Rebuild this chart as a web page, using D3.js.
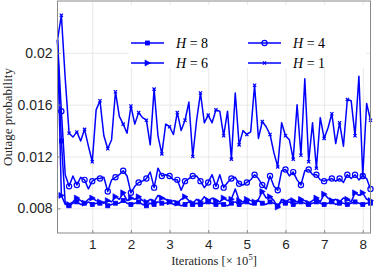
<!DOCTYPE html>
<html><head><meta charset="utf-8">
<script src="https://cdn.jsdelivr.net/npm/d3@7"></script>
<style>body{margin:0;background:#fff}svg{display:block}</style>
</head><body><svg id="c" width="374" height="268"></svg>
<script>
const iterations = [0.1,0.2,0.3,0.4,0.5,0.6,0.7,0.8,0.9,1.0,1.1,1.2,1.3,1.4,1.5,1.6,1.7,1.8,1.9,2.0,
2.1,2.2,2.3,2.4,2.5,2.6,2.7,2.8,2.9,3.0,3.1,3.2,3.3,3.4,3.5,3.6,3.7,3.8,3.9,4.0,
4.1,4.2,4.3,4.4,4.5,4.6,4.7,4.8,4.9,5.0,5.1,5.2,5.3,5.4,5.5,5.6,5.7,5.8,5.9,6.0,
6.1,6.2,6.3,6.4,6.5,6.6,6.7,6.8,6.9,7.0,7.1,7.2,7.3,7.4,7.5,7.6,7.7,7.8,7.9,8.0,8.1,8.2];

const h8 = [0.0210,0.0132,0.0084,0.0082,0.0084,0.0085,0.0083,0.0084,0.0085,0.0083,
0.0084,0.0084,0.0085,0.0082,0.0083,0.0084,0.0084,0.0086,0.0084,0.0083,
0.0084,0.0085,0.0083,0.0082,0.0084,0.0083,0.0085,0.0084,0.0084,0.0085,
0.0083,0.0084,0.0082,0.0083,0.0085,0.0083,0.0084,0.0083,0.0084,0.0085,
0.0084,0.0083,0.0084,0.0083,0.0082,0.0084,0.0085,0.0083,0.0084,0.0085,
0.0083,0.0084,0.0086,0.0084,0.0083,0.0085,0.0084,0.0082,0.0085,0.0084,
0.0085,0.0083,0.0084,0.0085,0.0084,0.0083,0.0084,0.0085,0.0084,0.0083,
0.0084,0.0085,0.0083,0.0084,0.0084,0.0083,0.0084,0.0085,0.0084,0.0083,0.0084,0.0084];

const h6 = [0.0210,0.0090,0.0083,0.0083,0.0085,0.0088,0.0086,0.0084,0.0087,0.0088,
0.0086,0.0085,0.0084,0.0086,0.0085,0.0089,0.0087,0.0092,0.0086,0.0088,
0.0087,0.0089,0.0086,0.0085,0.0087,0.0085,0.0090,0.0088,0.0087,0.0085,
0.0086,0.0084,0.0087,0.0089,0.0086,0.0084,0.0087,0.0085,0.0089,0.0086,
0.0088,0.0086,0.0085,0.0088,0.0086,0.0087,0.0095,0.0086,0.0085,0.0087,
0.0086,0.0085,0.0087,0.0093,0.0088,0.0089,0.0086,0.0081,0.0087,0.0085,
0.0087,0.0086,0.0085,0.0087,0.0086,0.0084,0.0086,0.0088,0.0085,0.0091,
0.0088,0.0086,0.0087,0.0085,0.0088,0.0087,0.0085,0.0092,0.0090,0.0092,0.0087,0.0086];

const h4 = [0.0210,0.0155,0.0106,0.0097,0.0105,0.0098,0.0104,0.0102,0.0095,0.0101,
0.0103,0.0103,0.0104,0.0093,0.0102,0.0104,0.0106,0.0109,0.0105,0.0092,
0.0097,0.0100,0.0101,0.0103,0.0108,0.0096,0.0111,0.0105,0.0106,0.0105,
0.0102,0.0102,0.0094,0.0101,0.0103,0.0105,0.0105,0.0101,0.0096,0.0100,
0.0106,0.0097,0.0106,0.0096,0.0100,0.0103,0.0104,0.0099,0.0098,0.0100,
0.0102,0.0106,0.0103,0.0098,0.0095,0.0105,0.0097,0.0094,0.0109,0.0110,
0.0105,0.0108,0.0102,0.0098,0.0109,0.0110,0.0106,0.0106,0.0102,0.0101,
0.0102,0.0103,0.0101,0.0103,0.0100,0.0106,0.0103,0.0106,0.0102,0.0105,0.0103,0.0095];

const h1 = [0.0210,0.0229,0.0180,0.0138,0.0135,0.0139,0.0132,0.0141,0.0128,0.0116,
0.0156,0.0163,0.0136,0.0126,0.0133,0.0170,0.0151,0.0145,0.0138,0.0159,
0.0145,0.0154,0.0150,0.0148,0.0129,0.0172,0.0136,0.0122,0.0145,0.0143,
0.0137,0.0154,0.0140,0.0148,0.0162,0.0120,0.0148,0.0169,0.0146,0.0152,
0.0146,0.0156,0.0155,0.0136,0.0155,0.0118,0.0169,0.0129,0.0140,0.0137,
0.0139,0.0175,0.0134,0.0147,0.0143,0.0137,0.0123,0.0112,0.0146,0.0136,
0.0133,0.0118,0.0160,0.0121,0.0180,0.0116,0.0146,0.0111,0.0150,0.0134,
0.0142,0.0153,0.0130,0.0146,0.0128,0.0164,0.0163,0.0136,0.0182,0.0105,0.0161,0.0148];

const xTicks = [1,2,3,4,5,6,7,8];
const yTicks = [0.008,0.012,0.016,0.02];
const yTickLabels = ["0.008","0.012","0.016","0.02"];
const seriesNames = ["8","6","4","1"];
const seriesMarkers = ["square","triangle","circle","cross"];

const svg = d3.select("#c");
const L = 57.5, R = 370.5, T = 1, B = 233;
const x = d3.scaleLinear().domain([0.1, 8.2]).range([L, R]);
const y = d3.scaleLinear().domain([0.0061, 0.024]).range([B, T]);
const blue = "#0000ff";

// grid
const gx = svg.append("g").attr("transform", `translate(0,${B})`)
  .call(d3.axisBottom(x).tickValues(xTicks).tickSize(-(B - T)).tickFormat(""));
gx.select(".domain").remove();
gx.selectAll("line").attr("stroke", "#e3e3e3").attr("stroke-width", 0.8);
const gy = svg.append("g").attr("transform", `translate(${L},0)`)
  .call(d3.axisLeft(y).tickValues(yTicks).tickSize(-(R - L)).tickFormat(""));
gy.select(".domain").remove();
gy.selectAll("line").attr("stroke", "#e3e3e3").attr("stroke-width", 0.8);

// data
const series = [h8, h6, h4, h1];
const line = d3.line().x((d, i) => x(iterations[i])).y(d => y(d));
const plot = svg.append("g");

function drawMarker(g, type, cx, cy) {
  if (type === "square") {
    g.append("rect").attr("x", cx - 2).attr("y", cy - 2).attr("width", 4).attr("height", 4)
      .attr("fill", blue).attr("stroke", blue).attr("stroke-width", 0.8);
  } else if (type === "triangle") {
    g.append("path").attr("d", `M${cx + 3},${cy} L${cx - 2.5},${cy - 3} L${cx - 2.5},${cy + 3} Z`)
      .attr("fill", blue).attr("stroke", blue).attr("stroke-width", 0.6);
  } else if (type === "circle") {
    g.append("circle").attr("cx", cx).attr("cy", cy).attr("r", 2.6)
      .attr("fill", "none").attr("stroke", blue).attr("stroke-width", 1.2);
  } else {
    g.append("path").attr("d", `M${cx - 1.6},${cy - 1.6}L${cx + 1.6},${cy + 1.6}M${cx - 1.6},${cy + 1.6}L${cx + 1.6},${cy - 1.6}`)
      .attr("stroke", blue).attr("stroke-width", 1.2).attr("fill", "none");
  }
}

series.forEach((s, k) => {
  plot.append("path").datum(s).attr("d", line)
    .attr("fill", "none").attr("stroke", blue).attr("stroke-width", 1.5).attr("stroke-linejoin", "round");
  const mg = plot.append("g");
  s.forEach((v, i) => { if (i % 2 === 1) drawMarker(mg, seriesMarkers[k], x(iterations[i]), y(v)); });
});

// box
svg.append("rect").attr("x", L).attr("y", T).attr("width", R - L).attr("height", B - T)
  .attr("fill", "none").attr("stroke", "#8a8a8a").attr("stroke-width", 1);

// axes ticks & labels
const ax = svg.append("g").attr("transform", `translate(0,${B})`)
  .call(d3.axisBottom(x).tickValues(xTicks).tickSizeInner(-3).tickSizeOuter(0).tickPadding(6).tickFormat(d3.format("d")));
ax.select(".domain").remove();
ax.selectAll("line").attr("stroke", "#8a8a8a");
ax.selectAll("text").attr("font-family", "Liberation Sans, Arial, sans-serif").attr("font-size", 13.5).attr("fill", "#262626");

const ay = svg.append("g").attr("transform", `translate(${L},0)`)
  .call(d3.axisLeft(y).tickValues(yTicks).tickSizeInner(-3).tickSizeOuter(0).tickPadding(5)
    .tickFormat((d, i) => yTickLabels[i]));
ay.select(".domain").remove();
ay.selectAll("line").attr("stroke", "#8a8a8a");
ay.selectAll("text").attr("font-family", "Liberation Sans, Arial, sans-serif").attr("font-size", 14).attr("fill", "#262626");

// axis titles
const xl = svg.append("text").attr("x", (L + R) / 2).attr("y", 265).attr("text-anchor", "middle")
  .attr("font-family", "Liberation Serif, Times New Roman, serif").attr("font-size", 12.5).attr("fill", "#262626");
xl.append("tspan").text("Iterations [× 10");
xl.append("tspan").text("5").attr("font-size", 8.5).attr("dy", -5);
xl.append("tspan").text("]").attr("dy", 5);

svg.append("text").attr("transform", `translate(12,${(T + B) / 2}) rotate(-90)`).attr("text-anchor", "middle")
  .attr("font-family", "Liberation Serif, Times New Roman, serif").attr("font-size", 13).attr("fill", "#262626")
  .text("Outage probability");

// legend
const lg = svg.append("g");
lg.append("rect").attr("x", 129).attr("y", 5).attr("width", 237).attr("height", 63).attr("fill", "#fff");
const legPos = [[131, 43], [131, 63], [248, 43], [248, 63]];
seriesNames.forEach((name, k) => {
  const [lx, ly] = legPos[k];
  lg.append("line").attr("x1", lx).attr("x2", lx + 33).attr("y1", ly).attr("y2", ly)
    .attr("stroke", blue).attr("stroke-width", 1.5);
  drawMarker(lg, seriesMarkers[k], lx + 16.5, ly);
  const t = lg.append("text").attr("x", lx + 45).attr("y", ly + 5)
    .attr("font-family", "Liberation Serif, Times New Roman, serif").attr("font-size", 14).attr("fill", "#000");
  t.append("tspan").attr("font-style", "italic").text("H");
  t.append("tspan").text(" = " + name);
});
</script></body></html>
